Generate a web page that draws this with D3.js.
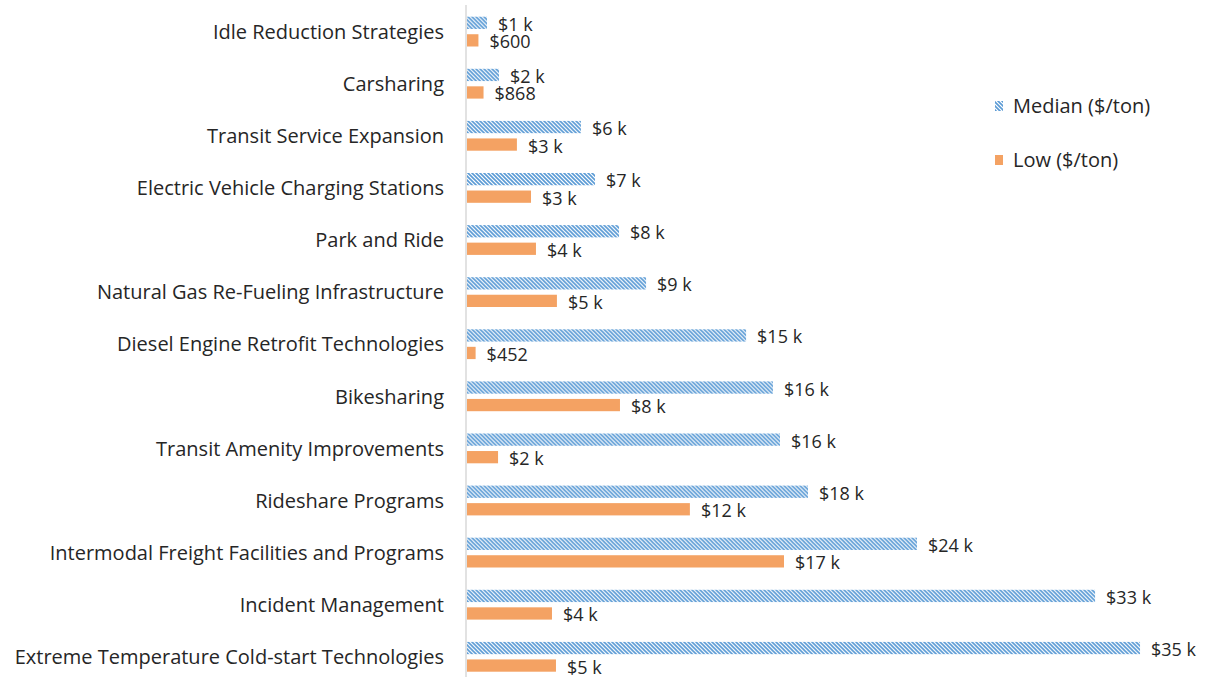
<!DOCTYPE html>
<html>
<head>
<meta charset="utf-8">
<script src="https://cdn.jsdelivr.net/npm/d3@7"></script>
<style>
  body { margin: 0; background: #fff; }
  text { font-family: "Open Sans", sans-serif; fill: #262626; }
</style>
</head>
<body>
<svg id="chart" width="1206" height="677"></svg>
<script>
var categories = [
  "Idle Reduction Strategies",
  "Carsharing",
  "Transit Service Expansion",
  "Electric Vehicle Charging Stations",
  "Park and Ride",
  "Natural Gas Re-Fueling Infrastructure",
  "Diesel Engine Retrofit Technologies",
  "Bikesharing",
  "Transit Amenity Improvements",
  "Rideshare Programs",
  "Intermodal Freight Facilities and Programs",
  "Incident Management",
  "Extreme Temperature Cold-start Technologies"
];

// $/ton
var median = [1050, 1680, 5980, 6720, 7980, 9400, 14650, 16060, 16430, 17900, 23620, 32970, 35330];
var low = [600, 868, 2620, 3360, 3620, 4720, 452, 8030, 1630, 11700, 16640, 4460, 4670];

var seriesNames = ["Median ($/ton)", "Low ($/ton)"];

var width = 1206, height = 677;
var orange = "#F4A263", blue = "#5B9BD5";

var svg = d3.select("#chart");

var defs = svg.append("defs");
var pat = defs.append("pattern")
    .attr("id", "stripes")
    .attr("patternUnits", "userSpaceOnUse")
    .attr("width", 4)
    .attr("height", 4);
pat.append("rect").attr("width", 4).attr("height", 4).attr("fill", "#fff");
pat.append("path")
    .attr("d", "M-1,-1L5,5M-1,3L1,5M3,-1L5,1")
    .attr("stroke", blue)
    .attr("stroke-width", 1.6);

var x = d3.scaleLinear()
    .domain([0, 36000])
    .range([467, 467 + 36 * 19.05]);

var y = d3.scaleBand()
    .domain(categories)
    .range([5.55, 682.85])
    .paddingInner(0.428)
    .paddingOuter(0.214);

var ys = d3.scaleBand()
    .domain(["median", "low"])
    .range([0, y.bandwidth()])
    .paddingInner(0.3);

var fmt = function(v) {
  return v < 1000 ? "$" + v : "$" + Math.round(v / 1000) + " k";
};

var rows = categories.map(function(c, i) {
  return { cat: c, median: median[i], low: low[i] };
});

// axis line
svg.append("line")
    .attr("x1", 466).attr("x2", 466)
    .attr("y1", 5).attr("y2", height)
    .attr("stroke", "#d9d9d9")
    .attr("stroke-width", 1.5);

// category labels
svg.append("g")
    .selectAll("text")
    .data(rows)
    .join("text")
    .attr("x", 444)
    .attr("y", d => y(d.cat) + y.bandwidth() / 2)
    .attr("dy", "0.36em")
    .attr("text-anchor", "end")
    .style("font-size", "20px")
    .text(d => d.cat);

var groups = svg.append("g")
    .selectAll("g")
    .data(rows)
    .join("g")
    .attr("transform", d => `translate(0,${y(d.cat)})`);

["median", "low"].forEach(function(key) {
  groups.append("rect")
      .attr("x", x(0))
      .attr("y", ys(key))
      .attr("width", d => x(d[key]) - x(0))
      .attr("height", ys.bandwidth())
      .attr("fill", key == "median" ? "url(#stripes)" : orange);

  groups.append("text")
      .attr("x", d => x(d[key]) + 11)
      .attr("y", ys(key) + ys.bandwidth() / 2 + 1.5)
      .attr("dy", "0.36em")
      .style("font-size", "18px")
      .text(d => fmt(d[key]));
});

// legend
var legend = svg.append("g")
    .selectAll("g")
    .data(seriesNames)
    .join("g")
    .attr("transform", (d, i) => `translate(995,${106 + i * 54})`);

legend.append("rect")
    .attr("x", 0).attr("y", -5)
    .attr("width", 8).attr("height", 10)
    .attr("fill", (d, i) => i == 0 ? "url(#stripes)" : orange);

legend.append("text")
    .attr("x", 18)
    .attr("y", 0)
    .attr("dy", "0.36em")
    .style("font-size", "20px")
    .text(d => d);
</script>
</body>
</html>
